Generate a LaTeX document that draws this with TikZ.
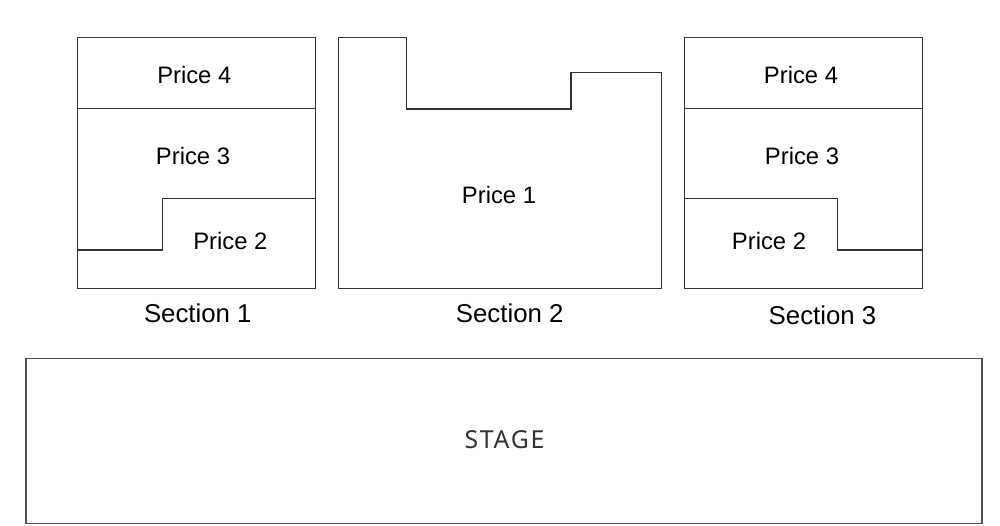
\documentclass[tikz,border=0pt]{standalone}
\usepackage{fontspec}
\setmainfont{Liberation Sans}
\newfontfamily\stagefont[LetterSpace=7]{Noto Sans}
\definecolor{linec}{HTML}{333333}
\definecolor{stagetext}{HTML}{333333}
\tikzset{
  wall/.style={draw=linec, line width=1.2pt, line join=miter},
  stagewall/.style={draw=linec!85, line width=1.6pt},
  price/.style={anchor=base, inner sep=0pt, font=\fontsize{23.8}{26}\selectfont, text=black},
  secname/.style={anchor=base, inner sep=0pt, font=\fontsize{25.8}{28}\selectfont, text=black},
  stagelbl/.style={anchor=base, inner sep=0pt, font=\stagefont\fontsize{24.8}{28}\selectfont, text=stagetext},
}
\begin{document}
\begin{tikzpicture}[x=1pt, y=-1pt]
\useasboundingbox (0,0) rectangle (1000,525);
% Section 1
\draw[wall] (77.5,37.3) rectangle (315.7,288.3);
\draw[wall] (77.5,108.3) -- (315.7,108.3);
\draw[wall] (315.7,198.3) -- (162.3,198.3) -- (162.3,250) -- (77.5,250);
\node[price] (s1p4) at (194.3,83.3) {Price 4};
\node[price] (s1p3) at (193,164.5) {Price 3};
\node[price] (s1p2) at (230.3,249) {Price 2};
\node[secname] (s1) at (197.8,322) {Section 1};
% Section 2
\draw[wall] (338.3,37.3) -- (406.7,37.3) -- (406.7,109) -- (571,109) -- (571,72.7) -- (661.7,72.7) -- (661.7,288.3) -- (338.3,288.3) -- cycle;
\node[price] (s2p1) at (499,203) {Price 1};
\node[secname] (s2) at (509.7,322) {Section 2};
% Section 3
\draw[wall] (684.3,37.3) rectangle (922.3,288.3);
\draw[wall] (684.3,108.3) -- (922.3,108.3);
\draw[wall] (684.3,198.3) -- (837.3,198.3) -- (837.3,250) -- (922.3,250);
\node[price] (s3p4) at (801,83.3) {Price 4};
\node[price] (s3p3) at (802,164.5) {Price 3};
\node[price] (s3p2) at (769,249.5) {Price 2};
\node[secname] (s3) at (822.5,324) {Section 3};
% Stage
\draw[stagewall] (26,358.3) rectangle (981.7,523.3);
\node[stagelbl] (stage) at (504.5,448.3) {STAGE};
\end{tikzpicture}
\end{document}
